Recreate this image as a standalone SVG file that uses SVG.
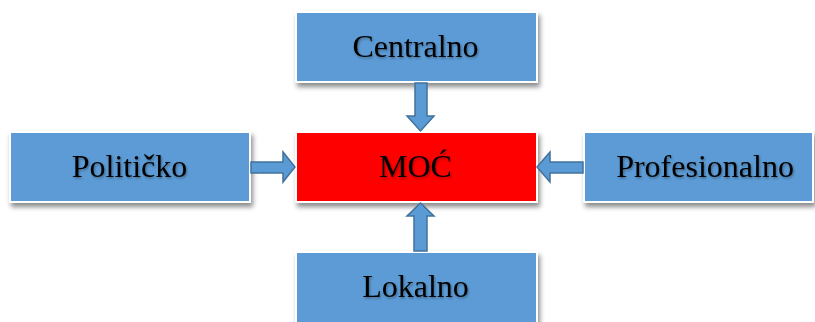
<svg xmlns="http://www.w3.org/2000/svg" width="815" height="322" viewBox="0 0 815 322">
<defs>
<filter id="sh" x="-10%" y="-20%" width="130%" height="150%">
<feDropShadow dx="2" dy="4" stdDeviation="2.5" flood-color="#000" flood-opacity="0.45"/>
</filter>
<filter id="tsh" x="-10%" y="-20%" width="130%" height="150%">
<feDropShadow dx="1" dy="1.5" stdDeviation="0.8" flood-color="#000" flood-opacity="0.35"/>
</filter>
</defs>
<style>
.box{fill:#5B9BD5;stroke:#fff;stroke-width:2;filter:url(#sh)}
.red{fill:#FF0000;stroke:#fff;stroke-width:2;filter:url(#sh)}
.lbl{font-family:"Liberation Serif","Times New Roman",serif;font-size:32px;fill:#000;text-anchor:middle;filter:url(#tsh)}
.arr{fill:#5B9BD5;stroke:#41719C;stroke-width:1.5}
</style>
<rect width="815" height="322" fill="#fff"/>
<g id="centralno"><rect class="box" x="296" y="12" width="241" height="70"/><text class="lbl" x="415.5" y="57">Centralno</text></g>
<g id="politicko"><rect class="box" x="10" y="132" width="240" height="70"/><text class="lbl" x="129.5" y="177">Političko</text></g>
<g id="moc"><rect class="red" x="296" y="132" width="241" height="70"/><text class="lbl" x="415.5" y="177">MOĆ</text></g>
<g id="profesionalno"><rect class="box" x="584" y="132" width="229" height="70"/><text class="lbl" x="705" y="177">Profesionalno</text></g>
<g id="lokalno"><rect class="box" x="296" y="252" width="241" height="80"/><text class="lbl" x="415.5" y="297">Lokalno</text></g>
<g id="connectors">
<path class="arr" d="M415,83 H427 V116 H434 L420.5,131 L407,116 H415 Z"/>
<path class="arr" d="M414,251 H427 V216 H434 L420.5,203 L407,216 H414 Z"/>
<path class="arr" d="M251,162 V173 H283 V182 L295,167 L283,152 V162 Z"/>
<path class="arr" d="M583,162 V173 H550 V182 L537,167 L550,152 V162 Z"/>
</g>
</svg>
